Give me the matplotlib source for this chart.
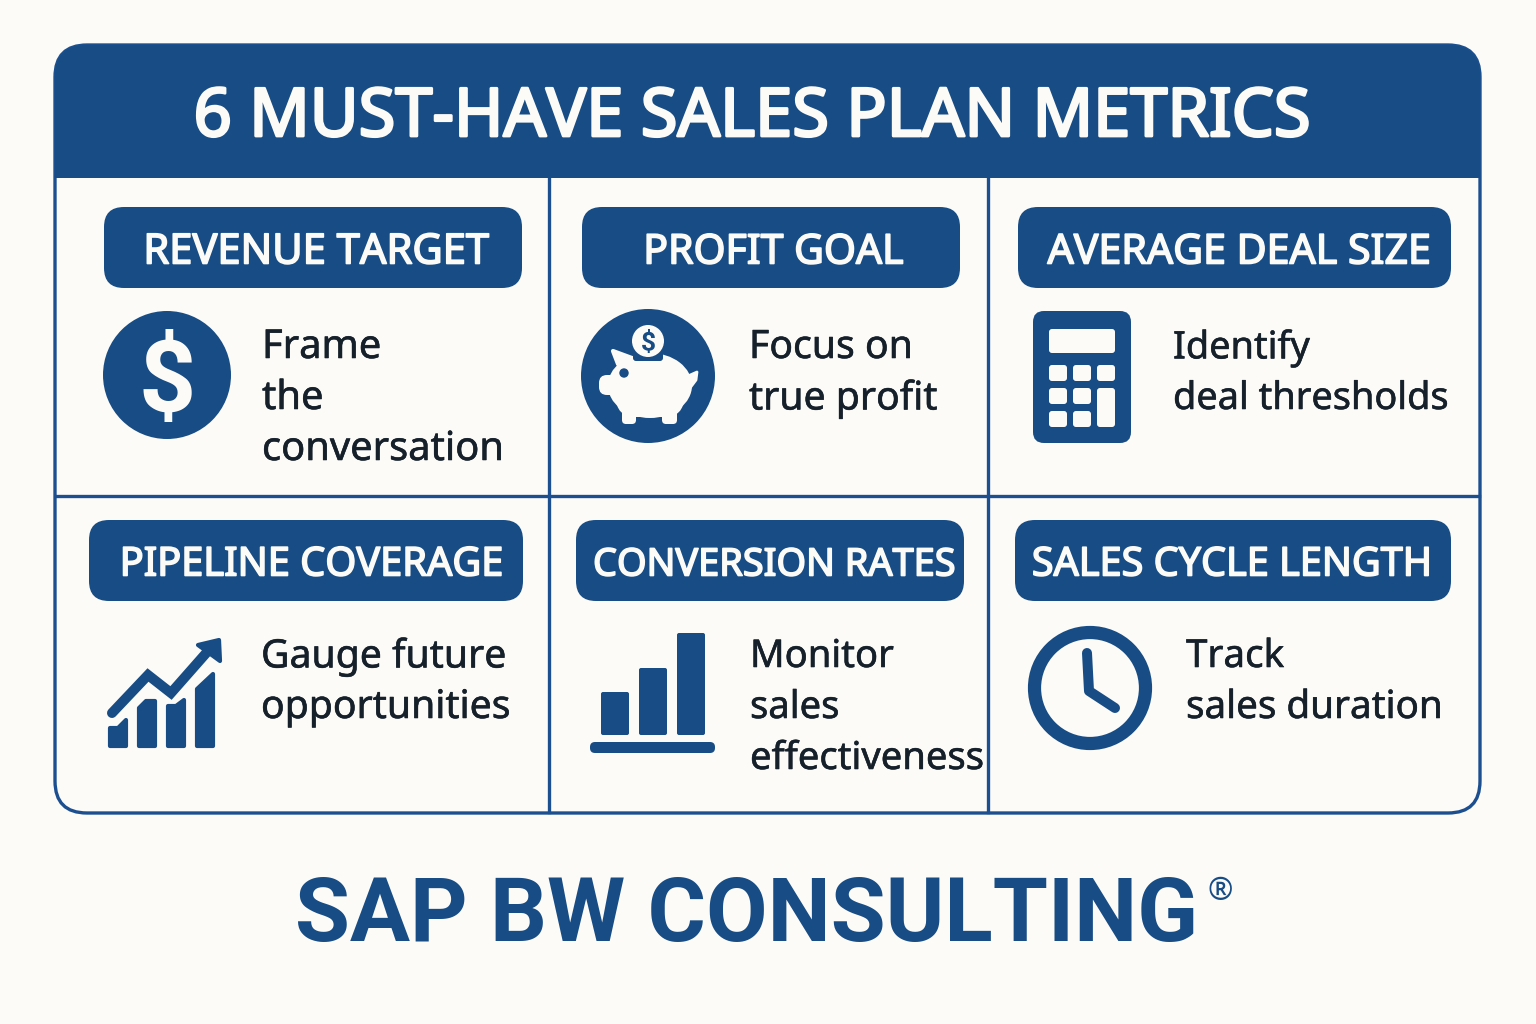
import matplotlib
matplotlib.use('Agg')
import matplotlib.pyplot as plt
import matplotlib.patheffects as pe
from matplotlib.patches import Circle, Ellipse, FancyBboxPatch, Polygon, Rectangle

BG = '#fdfbf7'
NAVY = '#174c85'
LINE = '#1c4f8f'
INK = '#15202b'

TITLE = '6 MUST-HAVE SALES PLAN METRICS'
FOOTER = 'SAP BW CONSULTING'
METRICS = ['REVENUE TARGET', 'PROFIT GOAL', 'AVERAGE DEAL SIZE',
           'PIPELINE COVERAGE', 'CONVERSION RATES', 'SALES CYCLE LENGTH']
NOTES = [
    ['Frame', 'the', 'conversation'],
    ['Focus on', 'true profit'],
    ['Identify', 'deal thresholds'],
    ['Gauge future', 'opportunities'],
    ['Monitor', 'sales', 'effectiveness'],
    ['Track', 'sales duration'],
]

# pill boxes (x0, y0, x1, y1), label centre and size, note left edge, in pixels
PILLS = [(104, 207, 522, 288), (582, 207, 960, 288), (1018, 207, 1451, 288),
         (89, 520, 523, 601), (576, 520, 964, 601), (1015, 520, 1451, 601)]
PILL_TEXT_X = [316, 773.5, 1239, 311.5, 774, 1232]
PILL_TEXT_SIZE = [30, 29.5, 29.6, 28.6, 27.3, 28.5]
NOTE_X = [262, 749, 1173, 261, 750, 1186]
NOTE_Y = [348, 348, 348, 657, 657, 657]
NOTE_SIZE = [28.7, 28.2, 27.3, 28.2, 27.5, 27.8]


def round_box(ax, x0, y0, x1, y1, r, **kwargs):
    patch = FancyBboxPatch((x0, y0), x1 - x0, y1 - y0,
                           boxstyle=f'round,pad=0,rounding_size={r}', **kwargs)
    ax.add_patch(patch)
    return patch


def heavy(width, color):
    return [pe.withStroke(linewidth=width, foreground=color)]


def draw_frame(ax):
    body = round_box(ax, 55, 45, 1480, 813, 32, fc=BG, ec=LINE, lw=2.4, zorder=1)
    header = Rectangle((50, 40), 1440, 138, fc=NAVY, ec='none', zorder=2)
    ax.add_patch(header)
    header.set_clip_path(body)
    for x in (549, 988):
        ax.plot([x, x], [178, 812], color=LINE, lw=2.4, zorder=1)
    ax.plot([56, 1479], [496, 496], color=LINE, lw=2.4, zorder=1)


def draw_dollar(ax):
    ax.add_patch(Circle((167, 375), 64, fc=NAVY, ec='none'))
    ax.text(167, 384, '$', color=BG, fontsize=72, fontweight='bold', ha='center',
            va='center', family='Roboto')


def draw_piggy(ax):
    ax.add_patch(Circle((648, 376), 67, fc=NAVY, ec='none'))
    ax.add_patch(Ellipse((650, 385.5), 84, 65, fc=BG, ec='none'))
    round_box(ax, 616, 372, 684, 417, 20, fc=BG, ec='none')
    # snout, ear, tail and legs
    round_box(ax, 599, 375, 622, 395, 8, fc=BG, ec='none')
    ax.add_patch(Polygon([(613, 351), (632, 358), (628, 372), (618, 364)],
                         fc=BG, ec=BG, lw=3, joinstyle='round'))
    ax.add_patch(Polygon([(688, 376), (697, 372), (696, 380), (690, 388)],
                         fc=BG, ec=BG, lw=2, joinstyle='round'))
    round_box(ax, 622, 405, 636, 424, 4, fc=BG, ec='none')
    round_box(ax, 662, 405, 677, 424, 4, fc=BG, ec='none')
    ax.add_patch(Circle((624, 373), 4.7, fc=NAVY, ec='none'))
    round_box(ax, 633, 350, 663, 361, 3, fc=NAVY, ec='none')
    ax.add_patch(Circle((648, 341), 16, fc=BG, ec='none'))
    ax.text(648, 343, '$', color=NAVY, fontsize=19, fontweight='bold',
            ha='center', va='center', family='Roboto')


def draw_calculator(ax):
    round_box(ax, 1033, 311, 1131, 443, 11, fc=NAVY, ec='none')
    round_box(ax, 1049, 329, 1115, 353, 3, fc=BG, ec='none')
    for x in (1049, 1073, 1097):
        for y in (365, 388, 411):
            if x == 1097 and y != 365:
                continue
            round_box(ax, x, y, x + 18, y + 16, 3, fc=BG, ec='none')
    round_box(ax, 1097, 388, 1115, 427, 3, fc=BG, ec='none')


def draw_growth(ax):
    bars = [[(110, 728), (118, 728), (126, 720), (126, 746), (110, 746)],
            [(139, 708), (146, 701), (155, 701), (155, 746), (139, 746)],
            [(168, 706), (176, 706), (184, 700), (184, 746), (168, 746)],
            [(197, 689), (213, 674), (213, 746), (197, 746)]]
    for pts in bars:
        ax.add_patch(Polygon(pts, fc=NAVY, ec=NAVY, lw=3, joinstyle='round'))
    ax.plot([112, 148, 171, 208], [713, 675, 693, 651], color=NAVY, lw=7.2,
            solid_capstyle='round', solid_joinstyle='miter')
    ax.add_patch(Polygon([(198, 645), (219, 640), (220, 661)], fc=NAVY, ec=NAVY,
                         lw=3, joinstyle='round'))


def draw_columns(ax):
    for x, top in ((601, 692), (639, 668), (677, 633)):
        round_box(ax, x, top, x + 28, 735, 2, fc=NAVY, ec='none')
    round_box(ax, 590, 742, 715, 753, 5, fc=NAVY, ec='none')


def draw_clock(ax):
    ax.add_patch(Circle((1090, 688), 55.5, fc='none', ec=NAVY, lw=9.5))
    ax.plot([1087, 1089, 1115], [653, 691, 708], color=NAVY, lw=7.2,
            solid_capstyle='round', solid_joinstyle='round')


fig = plt.figure(figsize=(15.36, 10.24), dpi=100, facecolor=BG)
ax = fig.add_axes([0, 0, 1, 1])
ax.set_xlim(0, 1536)
ax.set_ylim(1024, 0)
ax.axis('off')

draw_frame(ax)
ax.text(752, 118, TITLE, color=BG, fontsize=48.1, ha='center', va='center',
        family='Noto Sans', zorder=3, path_effects=heavy(2, BG))

for name, box, cx, size in zip(METRICS, PILLS, PILL_TEXT_X, PILL_TEXT_SIZE):
    round_box(ax, *box, 20, fc=NAVY, ec='none')
    ax.text(cx, (box[1] + box[3]) / 2 + 5, name, color=BG, fontsize=size,
            ha='center', va='center', family='Noto Sans',
            path_effects=heavy(1.2, BG))

for lines, x, y, size in zip(NOTES, NOTE_X, NOTE_Y, NOTE_SIZE):
    for i, line in enumerate(lines):
        ax.text(x, y + i * 51, line, color=INK, fontsize=size, ha='left',
                va='center', family='Noto Sans', path_effects=heavy(0.4, INK))

draw_dollar(ax)
draw_piggy(ax)
draw_calculator(ax)
draw_growth(ax)
draw_columns(ax)
draw_clock(ax)

ax.text(747, 917, FOOTER, color=NAVY, fontsize=64.4, fontweight='bold', ha='center',
        va='center', family='Roboto')
ax.text(1220, 892, '®', color=NAVY, fontsize=22, ha='center', va='center',
        family='Noto Sans')

fig.savefig('out.png', dpi=100, facecolor=BG)
